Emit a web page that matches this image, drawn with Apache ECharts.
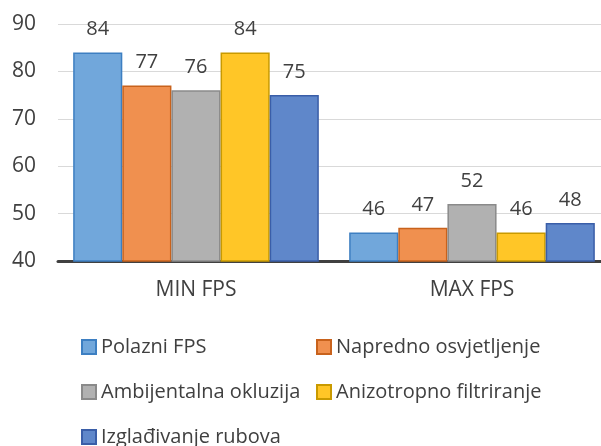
<!DOCTYPE html>
<html>
<head>
<meta charset="utf-8">
<script src="https://cdn.jsdelivr.net/npm/echarts@6/dist/echarts.min.js"></script>
<style>
  html, body { margin: 0; padding: 0; background: #fff; overflow: hidden; }
  #chart { width: 610px; height: 446px; }
</style>
</head>
<body>
<div id="chart"></div>
<script>
var categories = ['MIN FPS', 'MAX FPS'];
var seriesNames = ['Polazni FPS', 'Napredno osvjetljenje', 'Ambijentalna okluzija', 'Anizotropno filtriranje', 'Izglađivanje rubova'];
var polazni = [84, 46];
var napredno = [77, 47];
var ambijentalna = [76, 52];
var anizotropno = [84, 46];
var izgladjivanje = [75, 48];
var yTicks = [40, 50, 60, 70, 80, 90];

var fills = ['#71a7db', '#f0904f', '#b1b1b1', '#ffc627', '#5f87ca'];
var borders = ['#3d7fc2', '#c8621c', '#8a8a8a', '#c99a00', '#3a5ea8'];
var values = [polazni, napredno, ambijentalna, anizotropno, izgladjivanje];
var font = '"Open Sans", "DejaVu Sans", sans-serif';

var chart = echarts.init(document.getElementById('chart'));

var series = [];
for (var i = 0; i < seriesNames.length; i++) {
    series.push({
        name: seriesNames[i],
        type: 'bar',
        data: values[i],
        barGap: '0%',
        barCategoryGap: '11%',
        itemStyle: { color: fills[i], borderColor: borders[i], borderWidth: 1.5 },
        label: {
            show: true,
            position: 'top',
            distance: 13,
            color: '#404040',
            fontSize: 20,
            fontFamily: font
        }
    });
}

var legendText = { color: '#404040', fontSize: 20, fontFamily: font };

chart.setOption({
    animation: false,
    // the plot runs a bit past the right edge of the window, as in the reference
    grid: { left: 58, right: 0, top: 24, bottom: 185 },
    legend: [
        {
            data: [seriesNames[0], seriesNames[2], seriesNames[4]],
            orient: 'vertical',
            left: 81, top: 337, height: 120, padding: 0,
            itemWidth: 14, itemHeight: 14, itemGap: 25,
            icon: 'rect',
            textStyle: legendText
        },
        {
            data: [seriesNames[1], seriesNames[3]],
            orient: 'vertical',
            left: 316, top: 337, height: 120, padding: 0,
            itemWidth: 14, itemHeight: 14, itemGap: 25,
            icon: 'rect',
            textStyle: legendText
        }
    ],
    xAxis: {
        type: 'category',
        data: categories,
        axisLine: { lineStyle: { color: '#404040', width: 3 } },
        axisTick: { show: false },
        axisLabel: { color: '#404040', fontSize: 21, fontFamily: font, margin: 19 }
    },
    yAxis: {
        type: 'value',
        min: yTicks[0],
        max: yTicks[yTicks.length - 1],
        interval: 10,
        axisLine: { show: false },
        axisTick: { show: false },
        splitLine: { lineStyle: { color: '#d9d9d9', width: 1 } },
        axisLabel: { color: '#404040', fontSize: 21, fontFamily: font, margin: 22 }
    },
    series: series
});
</script>
</body>
</html>
